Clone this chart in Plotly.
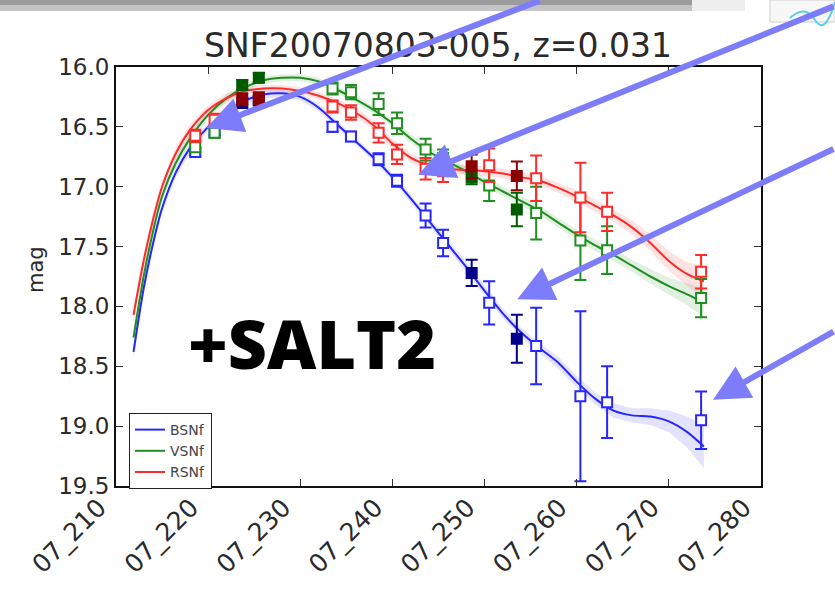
import plotly.graph_objects as go

# ---------------- light-curve data ----------------
# observation nights (phase dates), shared by the three bands
obs_dates = [218.6, 220.7, 223.7, 225.5, 233.5, 235.5, 238.5, 240.5, 243.6, 245.5,
             248.6, 250.5, 253.5, 255.6, 260.4, 263.3, 273.5]
# nights drawn with filled (dark) markers
filled_nights = [0, 0, 1, 1, 0, 0, 0, 0, 0, 0, 1, 0, 1, 0, 0, 0, 0]

b_mag = [16.71, 16.54, 16.30, 16.28, 16.50, 16.58, 16.77, 16.95, 17.24, 17.47,
         17.72, 17.97, 18.27, 18.33, 18.75, 18.80, 18.95]
b_err = [0.03, 0.03, 0.04, 0.04, 0.04, 0.04, 0.05, 0.05, 0.10, 0.11,
         0.11, 0.18, 0.20, 0.32, 0.71, 0.30, 0.24]

v_mag = [16.67, 16.55, 16.15, 16.09, 16.18, 16.21, 16.31, 16.47, 16.69, 16.76,
         16.92, 16.99, 17.19, 17.22, 17.45, 17.53, 17.93]
v_err = [0.04, 0.04, 0.04, 0.04, 0.05, 0.06, 0.09, 0.09, 0.09, 0.07,
         0.06, 0.13, 0.14, 0.22, 0.33, 0.20, 0.16]

r_mag = [16.575, 16.44, 16.27, 16.26, 16.33, 16.38, 16.55, 16.73, 16.85, 16.87,
         16.83, 16.82, 16.91, 16.93, 17.09, 17.21, 17.71]
r_err = [0.05, 0.05, 0.05, 0.05, 0.05, 0.06, 0.08, 0.08, 0.09, 0.09,
         0.10, 0.14, 0.12, 0.19, 0.29, 0.16, 0.14]

# SALT2 model curves
model_dates = [211.9, 213.0, 214.0, 215.0, 216.5, 218.0, 220.0, 222.0, 224.0, 226.0,
               228.0, 230.0, 232.0, 234.0, 236.0, 238.0, 240.0, 242.0, 244.0, 246.0,
               248.0, 250.0, 252.0, 254.0, 256.0, 258.0, 260.0, 262.0, 264.0, 266.0,
               268.0, 270.0, 272.0, 273.8]
b_model = [18.38, 17.85, 17.48, 17.18, 16.88, 16.68, 16.50, 16.37, 16.28, 16.23,
           16.22, 16.25, 16.34, 16.48, 16.62, 16.76, 16.92, 17.10, 17.29, 17.48,
           17.67, 17.87, 18.06, 18.22, 18.35, 18.47, 18.63, 18.77, 18.87, 18.91,
           18.92, 18.96, 19.05, 19.17]
v_model = [18.26, 17.75, 17.38, 17.08, 16.80, 16.60, 16.40, 16.26, 16.17, 16.11,
           16.09, 16.09, 16.12, 16.19, 16.27, 16.36, 16.47, 16.60, 16.71, 16.79,
           16.87, 16.96, 17.04, 17.12, 17.20, 17.30, 17.40, 17.49, 17.57, 17.66,
           17.75, 17.83, 17.90, 17.97]
r_model = [18.07, 17.62, 17.28, 17.00, 16.72, 16.53, 16.36, 16.26, 16.20, 16.18,
           16.18, 16.20, 16.24, 16.30, 16.38, 16.49, 16.64, 16.76, 16.82, 16.85,
           16.86, 16.87, 16.89, 16.92, 16.95, 17.01, 17.08, 17.16, 17.24, 17.34,
           17.47, 17.62, 17.73, 17.79]
# model uncertainty (half width of the shaded band)
b_model_err = [0.06, 0.05, 0.05, 0.04, 0.04, 0.04, 0.03, 0.03, 0.03, 0.03,
               0.03, 0.03, 0.03, 0.03, 0.03, 0.03, 0.03, 0.03, 0.03, 0.04,
               0.04, 0.04, 0.04, 0.04, 0.04, 0.05, 0.05, 0.05, 0.06, 0.06,
               0.07, 0.09, 0.13, 0.18]
v_model_err = [0.06, 0.05, 0.05, 0.04, 0.04, 0.04, 0.03, 0.03, 0.03, 0.03,
               0.03, 0.03, 0.03, 0.03, 0.03, 0.03, 0.03, 0.04, 0.04, 0.04,
               0.04, 0.04, 0.04, 0.04, 0.04, 0.04, 0.04, 0.05, 0.05, 0.05,
               0.06, 0.07, 0.09, 0.12]
r_model_err = [0.07, 0.06, 0.06, 0.05, 0.05, 0.05, 0.04, 0.04, 0.03, 0.03,
               0.03, 0.03, 0.03, 0.03, 0.04, 0.04, 0.04, 0.04, 0.04, 0.04,
               0.04, 0.04, 0.04, 0.04, 0.04, 0.04, 0.05, 0.05, 0.05, 0.06,
               0.07, 0.08, 0.10, 0.13]

tick_days = [210, 220, 230, 240, 250, 260, 270, 280]
tick_text = ["07_210", "07_220", "07_230", "07_240", "07_250", "07_260", "07_270", "07_280"]
mag_ticks = [16.0, 16.5, 17.0, 17.5, 18.0, 18.5, 19.0, 19.5]

bands = [
    ("BSNf", b_mag, b_err, b_model, b_model_err, "#2626ff", "rgba(40,40,255,0.13)", "#00008b"),
    ("VSNf", v_mag, v_err, v_model, v_model_err, "#1f8f1f", "rgba(20,140,20,0.13)", "#005c00"),
    ("RSNf", r_mag, r_err, r_model, r_model_err, "#ff2a2a", "rgba(255,40,40,0.13)", "#8b0000"),
]

# ---------------- page geometry ----------------
W, H = 835, 605
ML, MR, MT, MB = 116, 74, 67, 119
PW, PH = W - ML - MR, H - MT - MB


def px(x, y):
    """pixel position on the page -> paper coordinates of the plot area"""
    return (x - ML) / PW, 1 - (y - MT) / PH


fig = go.Figure()

# shaded model uncertainty
for name, mag, err, model, merr, col, fillcol, dark in bands:
    upper = [m - e for m, e in zip(model, merr)]
    lower = [m + e for m, e in zip(model, merr)]
    fig.add_trace(go.Scatter(
        x=model_dates + model_dates[::-1], y=upper + lower[::-1],
        fill="toself", fillcolor=fillcol, mode="lines",
        line=dict(width=0, color=fillcol), hoverinfo="skip", showlegend=False))

# model curves
for name, mag, err, model, merr, col, fillcol, dark in bands:
    fig.add_trace(go.Scatter(
        x=model_dates, y=model, mode="lines", name=name,
        line=dict(color=col, width=2, shape="spline", smoothing=0.8)))

# photometric points with error bars
for name, mag, err, model, merr, col, fillcol, dark in bands:
    for filled in (0, 1):
        xs = [d for d, f in zip(obs_dates, filled_nights) if f == filled]
        ys = [m for m, f in zip(mag, filled_nights) if f == filled]
        es = [e for e, f in zip(err, filled_nights) if f == filled]
        c = dark if filled else col
        fig.add_trace(go.Scatter(
            x=xs, y=ys, mode="markers", showlegend=False,
            marker=dict(symbol="square", size=10,
                        color=dark if filled else "white",
                        line=dict(color=c, width=2)),
            error_y=dict(type="data", array=es, color=c, thickness=2, width=6)))

# ---------------- axes ----------------
axis_common = dict(showline=True, linecolor="#111", linewidth=2, mirror="ticks",
                   ticks="inside", ticklen=7, tickcolor="#333", tickwidth=1,
                   showgrid=False, zeroline=False)
fig.update_xaxes(range=[210, 280], tickvals=tick_days, ticktext=tick_text,
                 tickangle=-45, ticklabelshift=-17, ticklabelstandoff=-5,
                 tickfont=dict(family="DejaVu Sans", size=25, color="#2a2a2a"),
                 **axis_common)
fig.update_yaxes(range=[19.5, 16.0], tickvals=mag_ticks,
                 ticktext=[f"{v:.1f}" for v in mag_ticks],
                 tickfont=dict(family="DejaVu Sans", size=23, color="#2a2a2a"),
                 **axis_common)

# ---------------- annotations ----------------
annotations = []
tx, ty = px(22, 270)
annotations.append(dict(xref="paper", yref="paper", x=tx, y=ty, text="mag",
                        textangle=-90, showarrow=False,
                        font=dict(family="DejaVu Sans", size=21, color="#2a2a2a")))
sx, sy = px(312, 342)
annotations.append(dict(xref="paper", yref="paper", x=sx, y=sy, text="+SALT2",
                        showarrow=False, xanchor="center", yanchor="middle",
                        font=dict(family="Open Sans", size=68, color="black", weight=800)))

# pointer arrows: tip in data space, tail offset in pixels
arrow_tips = [(219.8, 16.51), (242.8, 16.90), (253.55, 17.94), (274.8, 18.78)]
arrow_tails = [(335, -139), (440, -169), (345, -151), (140, -69)]
for (ax_d, ay_d), (dx, dy) in zip(arrow_tips, arrow_tails):
    annotations.append(dict(x=ax_d, y=ay_d, xref="x", yref="y",
                            ax=dx, ay=dy, axref="pixel", ayref="pixel",
                            text="", showarrow=True, arrowhead=2, arrowsize=1.2,
                            arrowwidth=6, arrowcolor="#7d7dfb", standoff=0))

# ---------------- page decoration ----------------
shapes = []
x0, y0 = px(0, 0)
x1, y1 = px(692, 5)
shapes.append(dict(type="rect", xref="paper", yref="paper", x0=x0, x1=x1, y0=y1, y1=y0,
                   fillcolor="#9c9c9c", line=dict(width=0), layer="above"))
x1b, y2 = px(692, 11)
shapes.append(dict(type="rect", xref="paper", yref="paper", x0=x0, x1=x1b, y0=y2, y1=y1,
                   fillcolor="#c4c4c4", line=dict(width=0), layer="above"))
bx0, by0 = px(692, 0)
bx1, by1 = px(745, 11)
shapes.append(dict(type="rect", xref="paper", yref="paper", x0=bx0, x1=bx1, y0=by1, y1=by0,
                   fillcolor="#eeeeee", line=dict(width=0), layer="above"))
ix0, iy0 = px(770, 0)
ix1, iy1 = px(835, 22)
shapes.append(dict(type="rect", xref="paper", yref="paper", x0=ix0, x1=ix1, y0=iy1, y1=iy0,
                   fillcolor="#f7f7f7", line=dict(color="#cfcfcf", width=1), layer="above"))
p0 = px(790, 18); p1 = px(805, 4); p2 = px(815, 20); p3 = px(835, 2)
shapes.append(dict(type="path", xref="paper", yref="paper",
                   path=f"M {p0[0]},{p0[1]} Q {p1[0]},{p1[1]} {p2[0]},{p2[1]} T {p3[0]},{p3[1]}",
                   line=dict(color="#5fd0e8", width=2), layer="above"))

lx, ly = px(129, 413)
fig.update_layout(
    width=W, height=H,
    margin=dict(l=ML, r=MR, t=MT, b=MB, pad=0),
    paper_bgcolor="white", plot_bgcolor="white",
    title=dict(text="SNF20070803-005, z=0.031", x=438 / W,
               xanchor="center", y=1 - 45 / H, yanchor="middle",
               font=dict(family="DejaVu Sans", size=33, color="#2a2a2a")),
    legend=dict(x=lx, y=ly, xanchor="left", yanchor="top",
                bgcolor="white", bordercolor="#222", borderwidth=1,
                font=dict(family="DejaVu Sans", size=14, color="#444"),
                tracegroupgap=0, itemwidth=30),
    annotations=annotations, shapes=shapes,
)

fig.write_html("out.html")
